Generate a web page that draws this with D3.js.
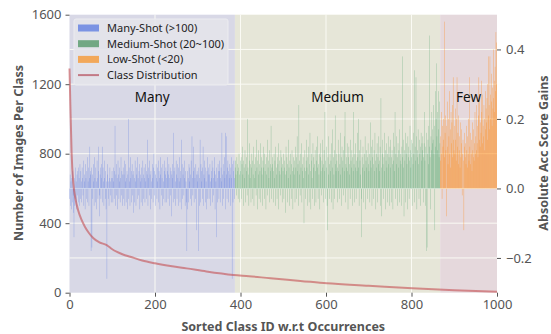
<!DOCTYPE html>
<html>
<head>
<meta charset="utf-8">
<script src="https://cdn.jsdelivr.net/npm/d3@7"></script>
<style>
  html, body { margin: 0; padding: 0; background: #fff; }
  text { font-family: "Noto Sans", "Open Sans", sans-serif; }
</style>
</head>
<body>
<div id="chart"></div>
<script>
// regions of the sorted class list
const regionNames = ['Many', 'Medium', 'Few'];
const regionStart = [0, 387, 867];
const regionEnd = [387, 867, 1000];

// legend entries
const legendLabels = ['Many-Shot (>100)', 'Medium-Shot (20~100)', 'Low-Shot (<20)', 'Class Distribution'];

// class distribution (class id, images per class)
const distClass = [0, 2, 5, 9, 14, 20, 28, 36, 45, 56, 70, 87, 100, 110, 125, 142, 170, 200, 240, 274, 320, 384, 420, 470, 540, 602, 700, 802, 900, 1000];
const distCount = [1290, 1080, 800, 630, 540, 476, 420, 380, 345, 313, 290, 274, 250, 236, 220, 207, 185, 169, 152, 140, 122, 102, 95, 83, 68, 54, 40, 25, 14, 6];

// absolute acc score gains per class, in hundredths (25 classes per row)
const gainsPct = [
  -3, 4, -5, 2, -6, 3, -4, 5, -2, -7, -14, 3, -5, 6, -3, 2, -6, 4, -2, 5, 6, -4, 3, -5, 7,
  -3, 5, 2, -4, 6, 3, -2, 8, -5, 4, 2, -6, 7, 3, -3, 5, 9, -4, 2, 6, -5, 3, 12, 4, 5,
  -18, 6, -17, 4, -3, 7, 2, -5, 9, 3, -4, 6, 2, -6, 8, 3, -3, 12, 5, -2, -8, 4, 6, -3, 7,
  3, 12, -4, 6, 2, -5, 8, 3, -3, 5, -6, 2, -26, 4, 7, -3, 2, -5, 3, 6, -2, 2, -4, 3, 5,
  3, -4, 6, 2, -3, 5, 18, -5, 4, 7, -2, 3, -6, 8, 4, -3, 2, 6, -4, 3, 9, -2, 5, -5, 4,
  6, -3, 4, 8, -5, 2, 7, -4, 3, 5, -6, 4, 20, -3, 6, 2, -5, 9, 3, -4, 5, 7, -2, 4, -7,
  5, 3, -4, 8, 2, -5, 6, 4, -3, 9, 3, -2, 5, 7, -6, 4, 2, -4, 6, 3, -5, 8, 4, -3, 6,
  3, -4, 7, 2, 5, -3, 4, 14, -5, 6, 3, -2, 8, 4, -6, 5, 2, -3, 7, 3, -4, 6, 10, -2, 5,
  4, -5, 7, 3, -3, 6, 2, 8, -4, 5, 3, -6, 9, 4, -2, 6, 3, -5, 7, 2, -3, 5, 8, -4, 4,
  6, 3, -4, 5, 9, -3, 4, 7, -5, 3, 6, -2, 5, -8, 4, 7, 3, -4, 16, 5, -3, 6, 2, -5, 8,
  4, -3, 7, 3, -5, 6, 2, 9, -4, 5, 3, -6, 14, 7, -3, 4, 6, -2, 8, 3, -5, 5, 2, -4, -18,
  -6, 5, 3, -4, 7, 2, 6, -3, 4, 8, -5, 15, 3, -2, 12, 5, -4, 6, 3, -3, 7, 4, -12, 5, 2,
  4, -18, 6, -5, 3, 14, -4, 7, 2, 5, -3, 6, 12, -5, 4, 8, 3, -4, 6, 2, -6, 5, 9, -3, 4,
  6, -3, 4, 7, 2, -5, 5, 3, 8, -4, 6, 3, -2, 5, 9, -6, 4, 2, -14, 6, 3, -4, 7, 5, -3,
  5, 8, -4, 3, 6, 2, 16, -5, 4, 7, -3, 5, 9, 3, 16, -6, 15, 4, -3, 6, 8, -4, 5, 3, 7,
  4, -5, 6, 9, 3, -26, 7, -4, 5, 8, 3, -3, 6, 8, 4, -2, 9, 5, 7, -3, 6, 10, 4, -4, 8,
  5, 9, -3, 7, 12, 4, -5, 8, 6, 3, 11, -4, 7, 5, 9, -2, 20, 6, 4, -5, 8, 13, 3, 7, -4,
  6, 10, -3, 8, 4, 12, -5, 7, 3, 9, 5, -2, 14, 6, -6, 8, 4, 11, -3, 7, 5, 13, -4, 6, 9,
  4, -5, 8, 12, 6, -3, 10, 5, 7, -6, 9, 4, 14, -2, 6, 8, 3, -4, 11, 7, 5, 18, -3, 6, 9,
  7, -4, 5, 10, 3, 8, -5, 12, 6, 4, -3, 9, 7, 13, -6, 5, 8, 4, -2, 11, 6, 9, -4, 7, 5,
  10, -3, 6, 8, 4, -7, 12, 5, 9, -4, 7, 3, 14, 6, -5, 8, 10, 4, -3, 7, 11, 5, -6, 9, 6,
  4, 8, -4, 12, 6, 9, -3, 15, 5, 7, -5, 24, 8, 4, -2, 10, 6, 13, -4, 7, 5, 9, 3, -10, 6,
  11, 5, -3, 8, 14, 6, -5, 9, 4, 12, -4, 7, 16, 5, -6, 8, 10, 3, -3, 13, 6, 9, -5, 7, 11,
  5, -4, 8, 12, 6, 15, -3, 7, 4, 10, -6, 9, 13, 5, -2, 8, 6, 14, -4, 7, 11, 5, 22, -3, 8,
  6, 12, -5, -12, 9, 4, 15, 7, -3, 10, 5, 8, -4, 13, 6, 17, -6, 9, 4, 11, -3, 21, 7, 5, 10,
  8, -4, 6, 14, 5, 10, -3, 7, 16, 4, 9, -5, 12, 6, 8, -2, 11, 5, 15, 22, -4, 7, 9, 6, 13,
  5, -6, 9, 12, 7, 4, -3, 14, 8, 6, 11, -5, 9, 5, 22, 7, -4, 10, 6, 13, -3, 8, 5, 16, 9,
  20, 6, -5, 11, 8, 4, 14, -3, -14, 9, 6, 12, -4, 7, 10, 5, 15, -6, 8, 11, 6, 9, -3, 13, 7,
  5, 10, -4, 19, 8, 6, 12, -5, 9, 14, 7, -3, 11, 5, 16, 8, -6, 10, 6, 13, -4, 9, 7, 15, 5,
  8, 12, -5, 26, 6, -8, 10, 14, 7, -3, 9, 16, 5, 11, -6, 8, 13, 6, -4, 10, 15, 7, 9, -5, 12,
  6, 14, -4, 9, 11, 7, -6, 16, 8, 12, 5, 22, -3, 10, 7, 15, 9, -5, 13, 6, 11, -4, 17, 8, 10,
  7, -5, 12, 38, 9, 14, 6, -8, 11, 8, 16, -4, 10, 13, 7, -6, 15, 9, 12, -3, 8, 18, 11, 6, 14,
  9, -5, 13, 7, 16, 10, 34, -4, 12, 8, 32, 15, -6, 11, 9, 17, 7, -3, 14, 10, 12, -5, 16, 8, 13,
  11, 15, -4, 9, 13, 22, 8, -5, 12, -18, 16, -17, 10, 14, 7, 18, 12, 44, 9, -6, 15, 11, 22, 13, 17,
  14, 24, 10, 18, -12, 28, 12, 20, 36, 15, 22, 11, 28, 17, 9, 25, 13, 8, 15, 22, 10, -3, 18, 12, 20,
  14, 9, 48, 16, 21, 11, -8, 18, 25, 12, 7, 20, 15, 28, 10, 17, 6, 22, 13, 19, 9, 24, 32, 14, 11,
  18, 10, 23, 14, 8, 20, 32, 12, 16, 7, 21, 11, 15, 6, 19, 9, 13, 17, -2, 10, 14, 8, -12, 12, 16,
  9, 13, 7, 18, 11, 6, 15, 10, 20, 8, 32, 12, 7, 16, 10, 14, 5, 19, 11, 9, 17, 8, 13, 22, 10,
  15, 11, 24, 13, 18, 9, 21, 32, 14, 26, 12, 19, 16, 31, 22, 13, 27, 18, 15, 24, 20, 11, 28, 17, 23,
  19, 26, 14, 30, 21, 38, 24, 17, 38, 27, 20, 33, 25, 18, 29, 23, 40, 26, 31, 22, 35, 28, 45, 30, 42
];
const gains = gainsPct.map(v => v / 100);

// tick labels
const xTicks = [0, 200, 400, 600, 800, 1000];
const yLeftTicks = [0, 400, 800, 1200, 1600];
const yRightTicks = [-0.2, 0.0, 0.2, 0.4];

const W = 551, H = 334;
const m = { l: 69.5, r: 497, t: 14.7, b: 292.7 };

const regionFill = ['#d8d8e6', '#e6e6d8', '#e5d8dc'];
const barColor = ['#4169e1', '#3c9a5f', '#ff8c1a'];
const legendColor = ['#7b93e3', '#72a883', '#f2a85a', '#c37a86'];
const axisGray = '#555';

const svg = d3.select('#chart').append('svg').attr('width', W).attr('height', H);

const x = d3.scaleLinear().domain([0, 1000]).range([m.l, m.r]);
const yL = d3.scaleLinear().domain([0, 1600]).range([m.b, m.t]);
const yR = d3.scaleLinear().domain([-0.3, 0.5]).range([m.b, m.t]);

// shaded regions
svg.selectAll('rect.region').data(regionNames).enter().append('rect')
  .attr('class', 'region')
  .attr('x', (d, i) => x(regionStart[i]))
  .attr('y', m.t)
  .attr('width', (d, i) => x(regionEnd[i]) - x(regionStart[i]))
  .attr('height', m.b - m.t)
  .attr('fill', (d, i) => regionFill[i]);

// grid lines
const grid = svg.append('g').attr('stroke', '#fafaf4').attr('stroke-width', 1);
grid.selectAll('line.gx').data(xTicks.slice(1, -1)).enter().append('line')
  .attr('x1', d => x(d)).attr('x2', d => x(d)).attr('y1', m.t).attr('y2', m.b);
grid.selectAll('line.gl').data(yLeftTicks.slice(1, -1)).enter().append('line')
  .attr('x1', m.l).attr('x2', m.r).attr('y1', d => yL(d)).attr('y2', d => yL(d));
grid.selectAll('line.gr').data(yRightTicks).enter().append('line')
  .attr('x1', m.l).attr('x2', m.r).attr('y1', d => yR(d)).attr('y2', d => yR(d));

// bars of score gains
const step = x(1) - x(0);
const regionOf = i => (i < regionStart[1] ? 0 : i < regionStart[2] ? 1 : 2);
svg.append('g').selectAll('rect').data(gains).enter().append('rect')
  .attr('x', (d, i) => x(i))
  .attr('y', d => Math.min(yR(d), yR(0)))
  .attr('width', step)
  .attr('height', d => Math.abs(yR(d) - yR(0)))
  .attr('fill', (d, i) => barColor[regionOf(i)])
  .attr('fill-opacity', (d, i) => (regionOf(i) === 2 ? 0.7 : 0.5));

// class distribution curve
const line = d3.line().x(d => x(d[0])).y(d => yL(d[1])).curve(d3.curveMonotoneX);
svg.append('path')
  .datum(distClass.map((c, i) => [c, distCount[i]]))
  .attr('fill', 'none')
  .attr('stroke', '#c44e52')
  .attr('stroke-opacity', 0.6)
  .attr('stroke-width', 2)
  .attr('d', line);

// region labels
svg.selectAll('text.region').data(regionNames).enter().append('text')
  .attr('x', (d, i) => x((regionStart[i] + regionEnd[i]) / 2))
  .attr('y', 102)
  .attr('text-anchor', 'middle')
  .attr('font-size', 13.5)
  .attr('fill', '#111')
  .text(d => d);

// axes
function styleAxis(g) {
  g.select('.domain').remove();
  g.selectAll('.tick line').attr('stroke', axisGray);
  g.selectAll('.tick text').attr('fill', axisGray).attr('font-size', 13)
    .attr('font-family', '"Noto Sans", sans-serif');
}
svg.append('g').attr('transform', `translate(0,${m.b})`)
  .call(d3.axisBottom(x).tickValues(xTicks).tickSize(4).tickPadding(3).tickFormat(d3.format('d')))
  .call(styleAxis);
svg.append('g').attr('transform', `translate(${m.l},0)`)
  .call(d3.axisLeft(yL).tickValues(yLeftTicks).tickSize(4).tickPadding(4).tickFormat(d3.format('d')))
  .call(styleAxis);
svg.append('g').attr('transform', `translate(${m.r},0)`)
  .call(d3.axisRight(yR).tickValues(yRightTicks).tickSize(4).tickPadding(5).tickFormat(d3.format('.1f')))
  .call(styleAxis);

// axis titles, fitted to the widths they take in the reference
function title(tr, str, width) {
  const t = svg.append('text').attr('transform', tr)
    .attr('text-anchor', 'middle').attr('font-size', 12.5).attr('font-weight', 'bold')
    .attr('fill', axisGray).text(str);
  if (t.node().getComputedTextLength() > width) {
    t.attr('textLength', width).attr('lengthAdjust', 'spacingAndGlyphs');
  }
}
title(`translate(${(m.l + m.r) / 2},331)`, 'Sorted Class ID w.r.t Occurrences', 210);
title(`translate(23,153) rotate(-90)`, 'Number of Images Per Class', 180);
title(`translate(548,153) rotate(-90)`, 'Absolute Acc Score Gains', 162);

// legend
const lg = svg.append('g').attr('transform', 'translate(74,19)');
lg.append('rect').attr('width', 154).attr('height', 66).attr('rx', 2)
  .attr('fill', '#e4e4ea').attr('fill-opacity', 0.92).attr('stroke', '#ececf0');
const item = lg.selectAll('g').data(legendLabels).enter().append('g')
  .attr('transform', (d, i) => `translate(4,${9 + i * 15.7})`);
item.filter((d, i) => i < 3).append('rect')
  .attr('y', -3.5).attr('width', 21).attr('height', 7)
  .attr('fill', (d, i) => legendColor[i]);
item.filter((d, i) => i === 3).append('line')
  .attr('x1', 0).attr('x2', 21).attr('stroke', legendColor[3]).attr('stroke-width', 2);
item.append('text').attr('x', 29).attr('y', 4).attr('font-size', 11).attr('fill', '#222')
  .text(d => d);
</script>
</body>
</html>
